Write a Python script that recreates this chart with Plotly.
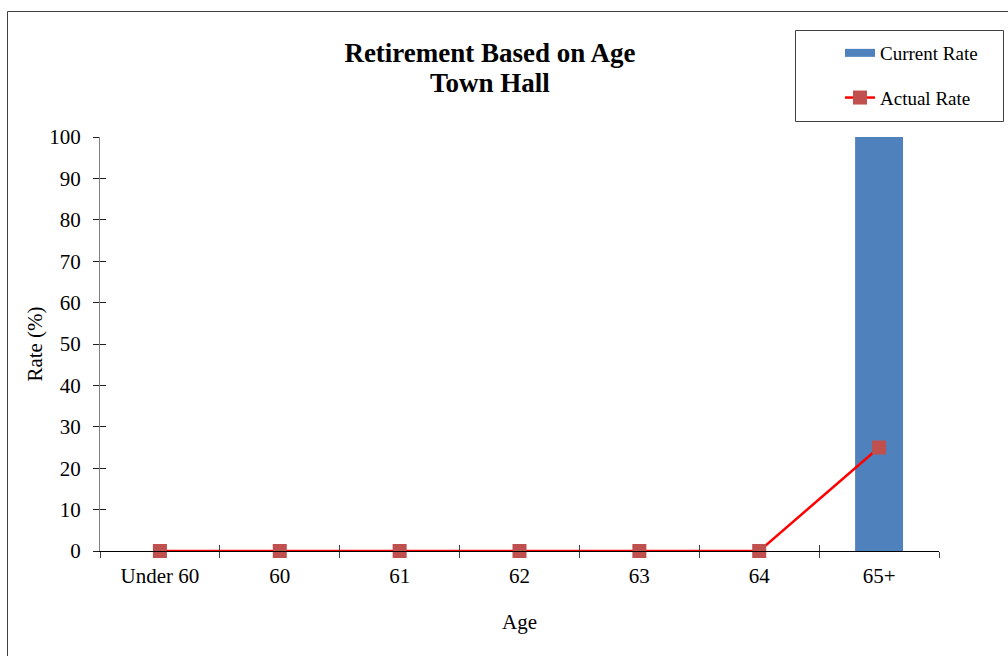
import plotly.graph_objects as go

# Chart data
ages = ["Under 60", "60", "61", "62", "63", "64", "65+"]
current_rate = [0, 0, 0, 0, 0, 0, 100]
actual_rate = [0, 0, 0, 0, 0, 0, 25]
y_ticks = [0, 10, 20, 30, 40, 50, 60, 70, 80, 90, 100]
title_lines = ["Retirement Based on Age", "Town Hall"]

FONT = "Liberation Serif, Times New Roman, serif"
W, H = 1008, 656
L, R, T, B = 100, 69, 137, 105
PW, PH = W - L - R, H - T - B


def px_x(px):
    return (px - L) / PW


def px_y(py):
    return (H - B - py) / PH


fig = go.Figure()

fig.add_trace(go.Bar(
    x=ages, y=current_rate, name="Current Rate",
    marker=dict(color="#4F81BD", line=dict(width=0)),
    width=0.4, showlegend=False,
))
# legend key for the bar series (wide block)
fig.add_trace(go.Scatter(
    x=[None], y=[None], name="Current Rate", mode="lines",
    line=dict(color="#4F81BD", width=8), legendgroup="a",
))
fig.add_trace(go.Scatter(
    x=ages, y=actual_rate, name="Actual Rate", mode="lines+markers",
    line=dict(color="#FF0000", width=2.5),
    marker=dict(symbol="square", size=14, color="#C0504D"),
    legendgroup="b", cliponaxis=False,
))

fig.update_layout(
    width=W, height=H,
    margin=dict(l=L, r=R, t=T, b=B),
    paper_bgcolor="white", plot_bgcolor="white",
    font=dict(family=FONT, size=21, color="black"),
    title=dict(
        text="<b>%s</b>" % title_lines[0],
        x=490 / W, xref="container", xanchor="center",
        y=1 - 53 / H, yref="container", yanchor="middle",
        font=dict(family=FONT, size=27, color="black"),
    ),
    annotations=[
        dict(text="<b>%s</b>" % title_lines[1], showarrow=False,
             xref="paper", yref="paper", x=px_x(490), y=px_y(83),
             xanchor="center", yanchor="middle",
             font=dict(family=FONT, size=27, color="black")),
    ],
    showlegend=True,
    legend=dict(
        x=px_x(840), xanchor="left",
        y=px_y(34), yanchor="top",
        bgcolor="rgba(0,0,0,0)", borderwidth=0,
        tracegroupgap=17,
        font=dict(family=FONT, size=19, color="black"),
    ),
    bargap=0.6,
    xaxis=dict(
        type="category", categoryorder="array", categoryarray=ages,
        range=[-0.5, 6.5],
        showline=True, linecolor="black", linewidth=1,
        ticks="outside", ticklen=6, tickcolor="#404040", tickson="boundaries",
        ticklabelstandoff=6,
        showgrid=False, zeroline=False,
        tickfont=dict(size=21),
        title=dict(text="Age", standoff=27, font=dict(size=21)),
    ),
    yaxis=dict(
        range=[0, 100], tickvals=y_ticks,
        showline=True, linecolor="#808080", linewidth=1,
        ticks="outside", ticklen=6, tickcolor="#202020",
        ticklabelstandoff=8,
        showgrid=False, zeroline=False,
        tickfont=dict(size=21),
        title=dict(text="Rate (%)", standoff=0, font=dict(size=21)),
    ),
    # overlay axes supply the inner half of the crossing tick marks
    xaxis2=dict(
        overlaying="x", range=[-0.5, 6.5],
        tickvals=[-0.5, 0.5, 1.5, 2.5, 3.5, 4.5, 5.5, 6.5],
        ticks="inside", ticklen=6, tickcolor="#404040",
        showticklabels=False, showgrid=False, zeroline=False, showline=False,
    ),
    yaxis2=dict(
        overlaying="y", range=[0, 100], tickvals=y_ticks,
        ticks="inside", ticklen=6, tickcolor="#202020",
        showticklabels=False, showgrid=False, zeroline=False, showline=False,
    ),
    shapes=[
        # outer chart frame
        dict(type="rect", xref="paper", yref="paper",
             x0=px_x(7.5), x1=px_x(1020), y0=px_y(720), y1=px_y(11.5),
             line=dict(color="#404040", width=1), layer="below"),
        # legend frame
        dict(type="rect", xref="paper", yref="paper",
             x0=px_x(795.5), x1=px_x(1003.5), y0=px_y(121.5), y1=px_y(30.5),
             line=dict(color="#404040", width=1)),
    ],
)

# invisible trace on the overlay axes so their ticks render
fig.add_trace(go.Scatter(x=[None], y=[None], xaxis="x2", yaxis="y2",
                         showlegend=False, hoverinfo="skip"))

fig.write_html("out.html")
